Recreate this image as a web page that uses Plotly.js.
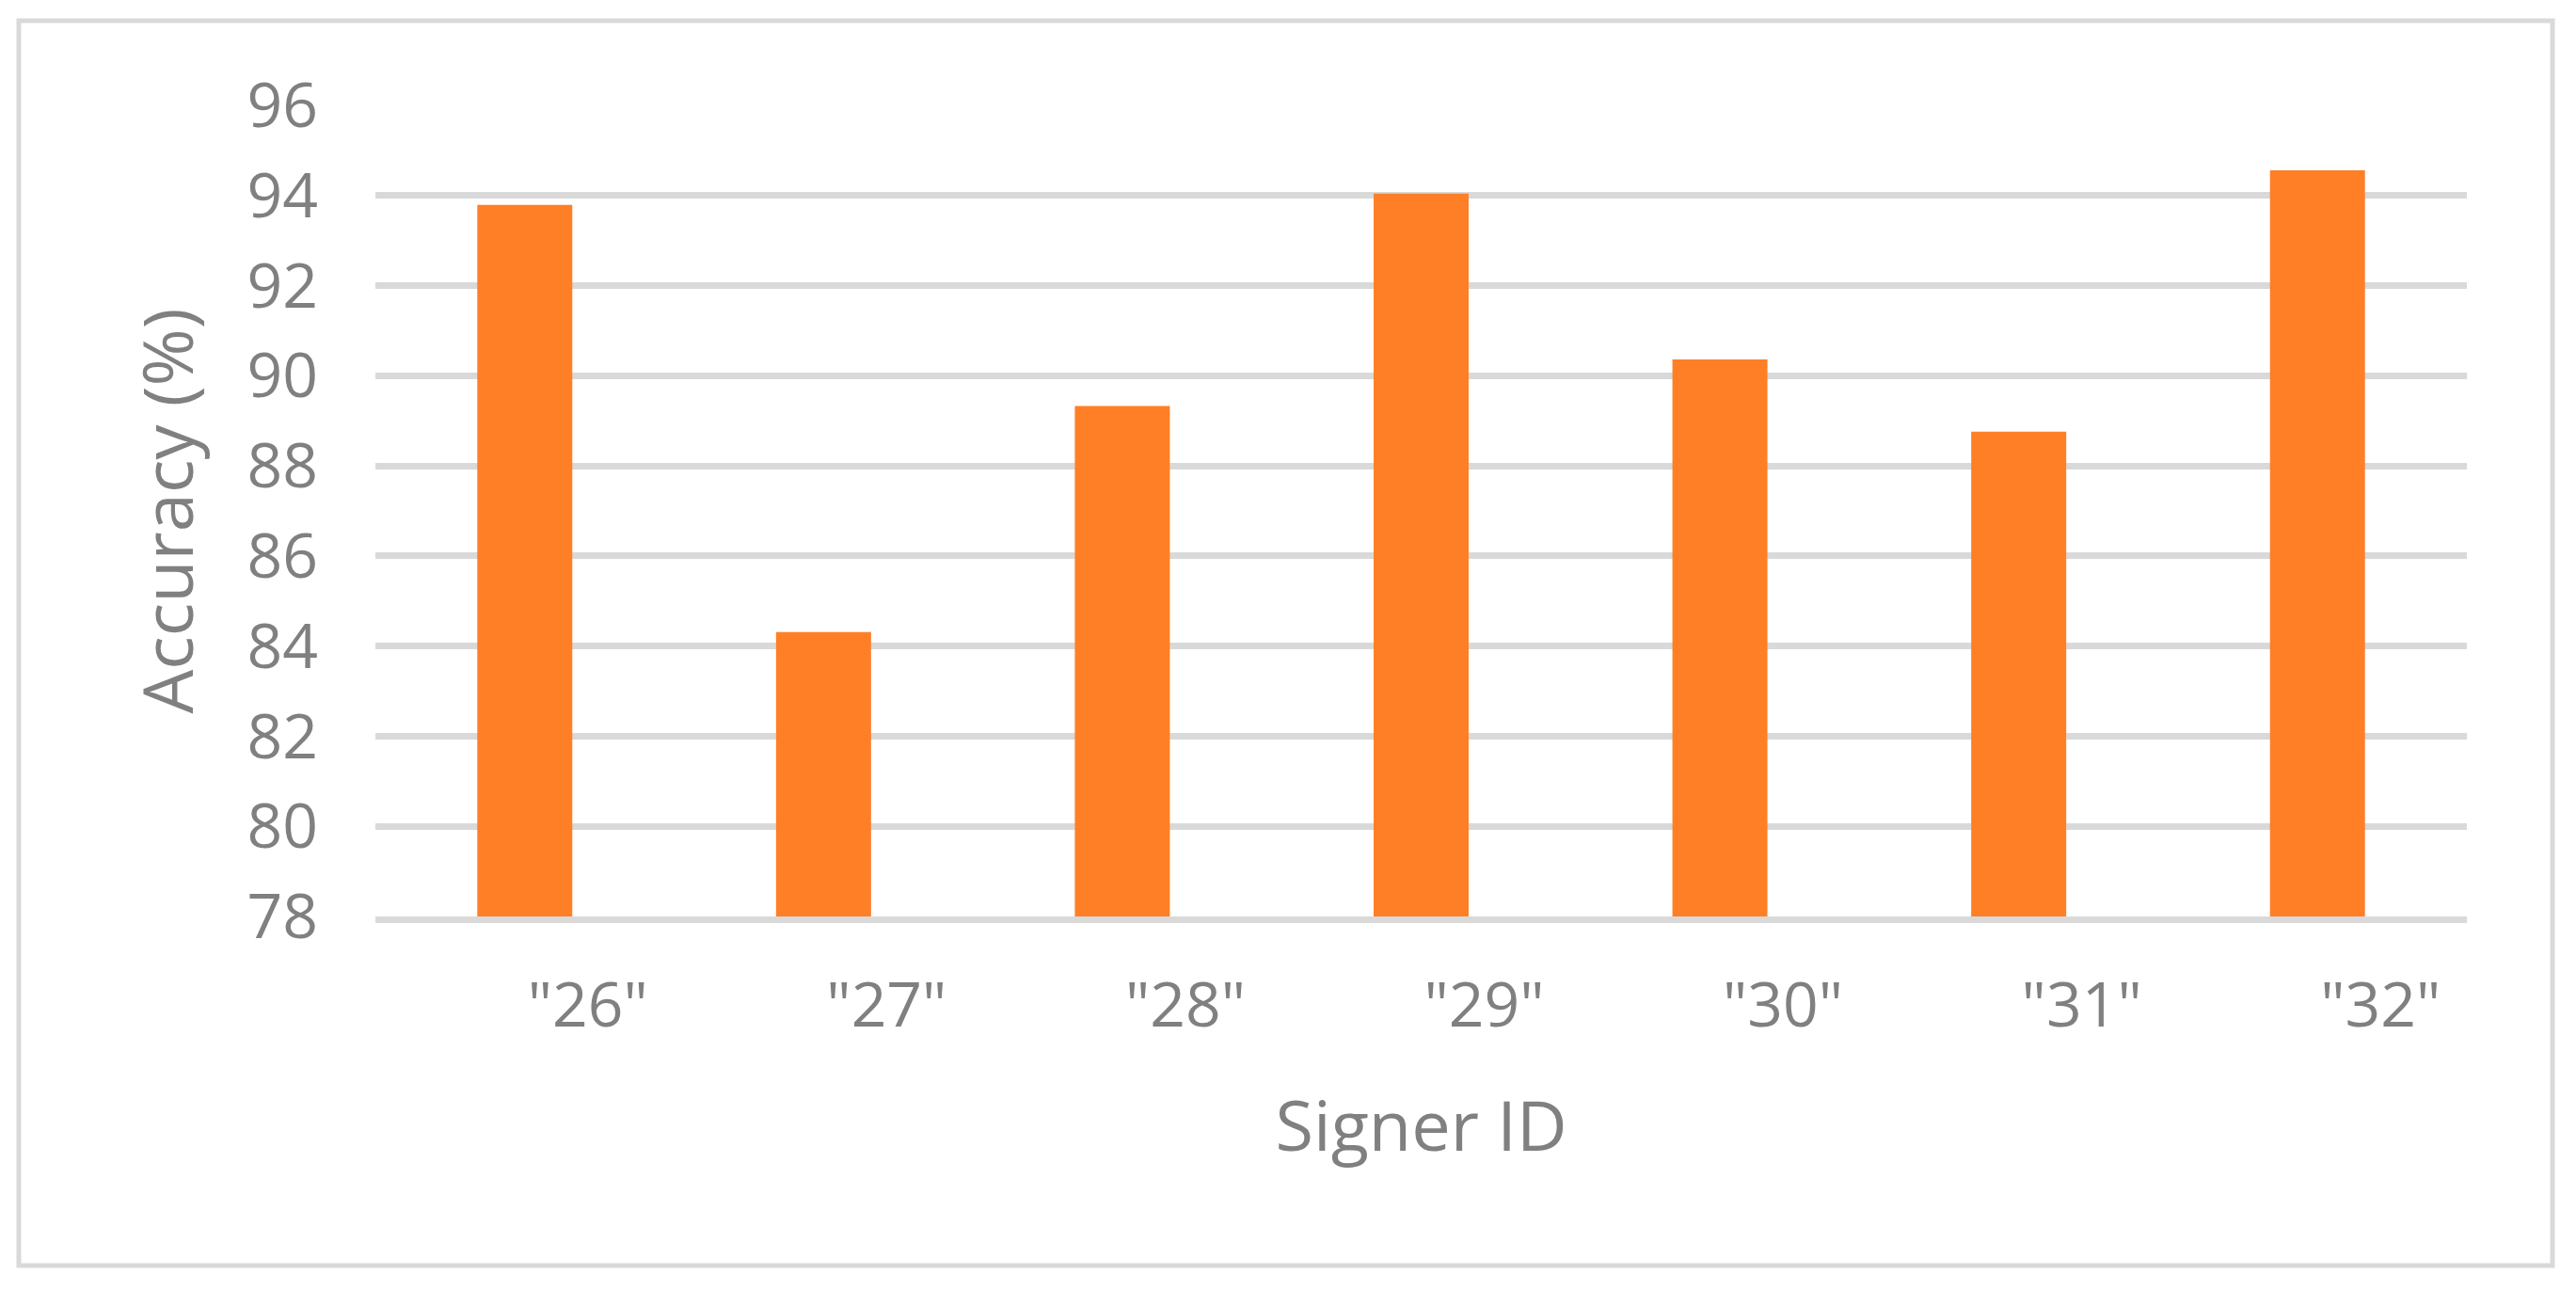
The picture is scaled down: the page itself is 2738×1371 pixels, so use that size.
<!DOCTYPE html>
<html>
<head>
<meta charset="utf-8">
<script src="https://cdn.plot.ly/plotly-3.0.1.min.js"></script>
<style>
  html, body { margin: 0; padding: 0; background: #fff; }
  #chart { width: 2738px; height: 1371px; }
</style>
</head>
<body>
<div id="chart"></div>
<script>
// accuracy per signer
const signers = ['"26"', '"27"', '"28"', '"29"', '"30"', '"31"', '"32"'];
const accuracy = [93.79, 84.31, 89.33, 94.04, 90.36, 88.76, 94.56];
const yTicks = [78, 80, 82, 84, 86, 88, 90, 92, 94, 96];

const grey = "#808080";
const fontFamily = "'Open Sans', 'Noto Sans', sans-serif";

var trace = {
  x: signers,
  y: accuracy,
  type: "bar",
  marker: { color: "#ff7f27" },
  hoverinfo: "x+y",
};

var layout = {
  width: 2738,
  height: 1371,
  margin: { l: 399, r: 116, t: 112, b: 397 },
  paper_bgcolor: "#ffffff",
  plot_bgcolor: "#ffffff",
  showlegend: false,
  bargap: 0.682,
  font: { family: fontFamily, color: grey, size: 66 },
  xaxis: {
    type: "category",
    showgrid: false,
    zeroline: false,
    showline: true,
    linecolor: "#d9d9d9",
    linewidth: 7,
    ticks: "",
    ticklabelshift: 67,
    ticklabelstandoff: 31,
    tickfont: { size: 66, color: grey },
    automargin: false,
    title: { text: "Signer ID", font: { size: 74, color: grey }, standoff: 64 },
  },
  yaxis: {
    range: [78, 96],
    tickvals: yTicks,
    showgrid: true,
    gridcolor: "#d9d9d9",
    gridwidth: 7,
    zeroline: false,
    showline: false,
    ticks: "",
    ticklabelstandoff: 60,
    tickfont: { size: 66, color: grey },
    automargin: false,
    title: { text: "Accuracy (%)", font: { size: 74, color: grey }, standoff: 32 },
  },
  shapes: [
    {
      // outer chart frame
      type: "rect",
      xref: "paper",
      yref: "paper",
      x0: (20 - 399) / 2223,
      x1: (2713 - 399) / 2223,
      y0: (974 - 1345) / 862,
      y1: (974 - 22) / 862,
      line: { color: "#d9d9d9", width: 5 },
      fillcolor: "rgba(0,0,0,0)",
      layer: "below",
    },
  ],
};

Plotly.newPlot("chart", [trace], layout, { displayModeBar: false, staticPlot: true });
</script>
</body>
</html>
